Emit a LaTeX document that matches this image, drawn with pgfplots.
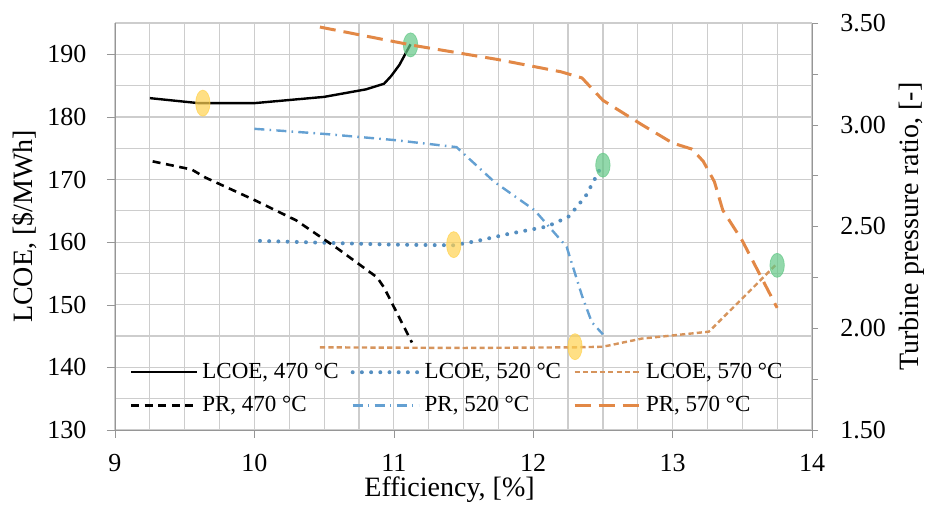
\documentclass[border=0pt]{standalone}
\usepackage{fontspec}
\setmainfont{Liberation Serif}
\usepackage{pgfplots}
\pgfplotsset{compat=1.18}
\definecolor{gridgray}{RGB}{205,205,205}
\definecolor{axgray}{RGB}{150,150,150}
\definecolor{blueA}{RGB}{84,142,192}
\definecolor{blueB}{RGB}{100,160,210}
\definecolor{orangeA}{RGB}{214,148,92}
\definecolor{orangeB}{RGB}{226,136,70}
\definecolor{markyel}{RGB}{255,210,80}
\definecolor{markgrn}{RGB}{100,200,135}
\newcommand{\fsT}{\fontsize{13}{15}\selectfont}
\newcommand{\fsL}{\fontsize{14}{16}\selectfont}
\newcommand{\fsG}{\fontsize{11.5}{13.8}\selectfont}

\pgfplotsset{
  lcoeA/.style={black, line width=1.2pt},
  lcoeB/.style={blueA, line width=2pt, line cap=round, dash pattern=on 0pt off 4.6pt},
  lcoeC/.style={orangeA, line width=1.2pt, dash pattern=on 2.6pt off 1.6pt},
  prA/.style={black, line width=1.3pt, dash pattern=on 4pt off 2.8pt},
  prB/.style={blueB, line width=1.2pt, dash pattern=on 5pt off 2.6pt on 0.8pt off 2.6pt},
  prC/.style={orangeB, line width=1.5pt, dash pattern=on 8pt off 4pt},
  common/.style={
    scale only axis, width=348.5pt, height=203.5pt,
    xmin=9, xmax=14,
    tick label style={font=\fsT},
    label style={font=\fsL, inner sep=0pt, anchor=center},
    /pgf/number format/assume math mode=true,
    tick align=outside,
  },
}

\begin{document}
\begin{tikzpicture}
\begin{axis}[common,
  ymin=130, ymax=195,
  axis x line*=bottom, axis y line*=left,
  axis line style={axgray},
  xtick={9,10,...,14},
  minor xtick={9.25,9.5,9.75,10.25,10.5,10.75,11.25,11.5,11.75,12.25,12.5,12.75,13.25,13.5,13.75},
  ytick={130,140,...,190},
  minor ytick={135,145,...,195},
  grid=both,
  major grid style={gridgray, line width=0.6pt},
  minor grid style={gridgray, line width=0.6pt},
  major tick length=4pt, minor tick length=0pt,
  tick style={axgray},
  xticklabel style={yshift=-4.8pt},
  yticklabel style={xshift=-6.8pt},
  xlabel={Efficiency, [\%]},
  ylabel={LCOE, [\$/MWh]},
  xlabel style={at={(rel axis cs:0.48,-0.1474)}},
  ylabel style={at={(rel axis cs:-0.1291,0.5)}},
]
\addplot[lcoeA] coordinates {
  (9.25,183.0) (9.6,182.2) (10.0,182.2) (10.5,183.2) (10.8,184.4) (10.93,185.3)
  (10.98,186.5) (11.04,188.3) (11.12,191.6)
};
\addplot[lcoeB] coordinates {
  (10.04,160.2) (10.5,159.9) (11.0,159.6) (11.43,159.5) (11.6,160.2) (11.82,161.3)
  (12.1,162.5) (12.25,164.0) (12.32,165.8) (12.38,167.5) (12.44,170.0) (12.5,172.6)
};
\addplot[lcoeC] coordinates {
  (10.47,143.2) (11.5,143.1) (12.3,143.2) (12.5,143.3) (12.78,144.6) (13.0,145.1)
  (13.26,145.7) (13.5,151.0) (13.75,156.6)
};
\addplot[only marks, color=markyel, opacity=0.7, mark=*, mark size=6.5pt,
  mark options={xscale=0.55}] coordinates {
  (9.63,182.2) (11.43,159.6) (12.3,143.3)
};
\addplot[only marks, color=markgrn, opacity=0.7, mark=*, mark size=6pt,
  mark options={xscale=0.6}] coordinates {
  (11.12,191.5) (12.5,172.3) (13.75,156.3)
};
\coordinate (sw) at (rel axis cs:0,0);
\coordinate (ne) at (rel axis cs:1,1);
\end{axis}

\begin{axis}[common,
  ymin=1.5, ymax=3.5,
  axis x line=none, axis y line*=right,
  axis line style={axgray},
  ytick={1.5,2,...,3.5},
  minor ytick={1.75,2.25,...,3.25},
  major tick length=3pt, minor tick length=3pt,
  tick style={axgray},
  yticklabel style={xshift=7.7pt, /pgf/number format/.cd, fixed, fixed zerofill, precision=2},
  ylabel={Turbine pressure ratio, [-]},
  ylabel style={at={(rel axis cs:1.1435,0.5)}},
  legend columns=3,
  legend cell align=left,
  legend style={at={(0.012,0.185)}, anchor=north west, draw=none, fill=none,
    font=\fsG, row sep=3.5pt,
    /tikz/every even column/.append style={column sep=4pt}},
  legend image code/.code={\draw[#1] (0pt,0pt) -- (33pt,0pt);},
]
\addlegendimage{lcoeA}
\addlegendentry{LCOE, 470 °C}
\addlegendimage{lcoeB}
\addlegendentry{LCOE, 520 °C}
\addlegendimage{lcoeC}
\addlegendentry{LCOE, 570 °C}
\addplot[prA] coordinates {
  (9.27,2.82) (9.55,2.78) (9.65,2.74) (10.0,2.63) (10.3,2.53) (10.6,2.39)
  (10.88,2.25) (10.93,2.20) (11.13,1.93)
};
\addlegendentry{PR, 470 °C}
\addplot[prB] coordinates {
  (10.0,2.98) (10.5,2.955) (11.0,2.925) (11.45,2.89) (11.72,2.72) (12.01,2.58)
  (12.24,2.40) (12.35,2.16) (12.42,2.03) (12.5,1.97)
};
\addlegendentry{PR, 520 °C}
\addplot[prC] coordinates {
  (10.47,3.48) (11.14,3.39) (11.75,3.32) (12.2,3.26) (12.35,3.23) (12.5,3.12)
  (12.78,3.0) (13.0,2.91) (13.14,2.88) (13.22,2.82) (13.3,2.72) (13.36,2.58)
  (13.5,2.43) (13.75,2.10)
};
\addlegendentry{PR, 570 °C}
\end{axis}
\path ([shift={(-57.5pt,-40pt)}]sw) rectangle ([shift={(56.5pt,11.5pt)}]ne);
\end{tikzpicture}
\end{document}
